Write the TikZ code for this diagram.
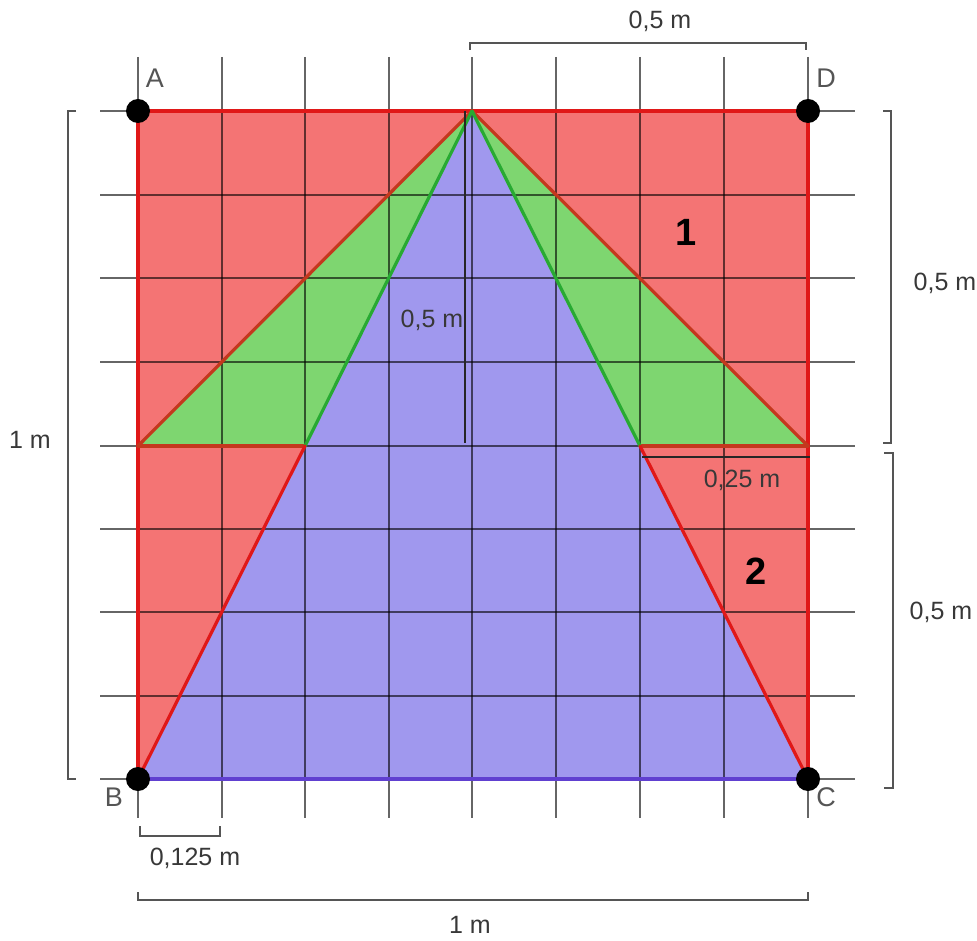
\documentclass[tikz,border=0pt]{standalone}
\usepackage{fontspec}
\setmainfont{Liberation Sans}
\begin{document}
\begin{tikzpicture}[x=1pt,y=-1pt]
\definecolor{redfill}{RGB}{244,116,116}
\definecolor{greenfill}{RGB}{126,214,112}
\definecolor{bluefill}{RGB}{160,152,238}
\definecolor{redline}{RGB}{224,24,24}
\definecolor{brownline}{RGB}{196,56,30}
\definecolor{greenline}{RGB}{40,170,50}
\definecolor{blueline}{RGB}{96,64,208}
\definecolor{dimgray}{RGB}{85,85,85}
\tikzset{
 gridline/.style={black, opacity=0.6, line width=2pt},
 dimline/.style={dimgray, line width=2pt},
 edge/.style={line width=3.2pt, line cap=round, line join=round},
 dimlabel/.style={text=black!78, font=\fontsize{25}{25}\selectfont, inner sep=0pt},
 ptlabel/.style={text=dimgray, font=\fontsize{27}{27}\selectfont, inner sep=0pt},
 numlabel/.style={font=\bfseries\fontsize{38}{38}\selectfont, inner sep=0pt},
 dot/.style={circle, fill=black, minimum size=24pt, inner sep=0pt},
}
\useasboundingbox (0,0) rectangle (977,941);
\fill[white] (0,0) rectangle (977,941);
\coordinate (A) at (138,111);
\coordinate (D) at (808,111);
\coordinate (B) at (138,779);
\coordinate (C) at (808,779);
\coordinate (M) at (472,111);
\coordinate (L) at (138,446);
\coordinate (R) at (808,446);
\coordinate (BL) at (305,446);
\coordinate (BR) at (640,446);
% fills
\fill[redfill] (A) rectangle (C);
\fill[greenfill] (M) -- (L) -- (R) -- cycle;
\fill[bluefill] (M) -- (B) -- (C) -- cycle;
% grid
\foreach \gx in {138,222,305,389,472,556,640,724,808} {
  \draw[gridline] (\gx,57) -- (\gx,818);
}
\foreach \gy in {111,195,278,362,446,529,612,696,779} {
  \draw[gridline] (100,\gy) -- (855,\gy);
}
% edges
\draw[edge, redline] (B) -- (A) -- (D) -- (C);
\draw[edge, brownline] (L) -- (M) -- (R);
\draw[edge, brownline] (L) -- (BL);
\draw[edge, brownline] (BR) -- (R);
\draw[edge, greenline] (BL) -- (M) -- (BR);
\draw[edge, redline] (BL) -- (B);
\draw[edge, redline] (BR) -- (C);
\draw[edge, blueline] (B) -- (C);
% points
\node[dot] (dA) at (A) {};
\node[dot] (dB) at (B) {};
\node[dot] (dC) at (C) {};
\node[dot] (dD) at (D) {};
\node[ptlabel] (lA) at (155,78) {A};
\node[ptlabel] (lD) at (826,78) {D};
\node[ptlabel] (lB) at (114,797) {B};
\node[ptlabel] (lC) at (826,797) {C};
% dimensions
\draw[dimline] (470,50) -- (470,43) -- (806,43) -- (806,50);
\node[dimlabel] (t1) at (660,21) {0,5 m};
\draw[dimline] (883,111) -- (891,111) -- (891,443) -- (883,443);
\node[dimlabel] (t2) at (945,283) {0,5 m};
\draw[dimline] (884,453) -- (893,453) -- (893,788) -- (884,788);
\node[dimlabel] (t3) at (941,612) {0,5 m};
\draw[dimline] (76,111) -- (68,111) -- (68,779) -- (76,779);
\node[dimlabel] (t4) at (30,440) {1 m};
\draw[dimline] (138,892) -- (138,900) -- (808,900) -- (808,892);
\node[dimlabel] (t5) at (470,925) {1 m};
\draw[dimline] (140,826) -- (140,836) -- (220,836) -- (220,826);
\node[dimlabel] (t6) at (195,858) {0,125 m};
\draw[black!85, line width=2pt] (465,111) -- (465,443);
\node[dimlabel] (t7) at (432,320) {0,5 m};
\draw[black!85, line width=2pt] (642,457) -- (810,457);
\node[dimlabel] (t8) at (742,480) {0,25 m};
\node[numlabel] (n1) at (686,232) {1};
\node[numlabel] (n2) at (756,571) {2};
\end{tikzpicture}
\end{document}
